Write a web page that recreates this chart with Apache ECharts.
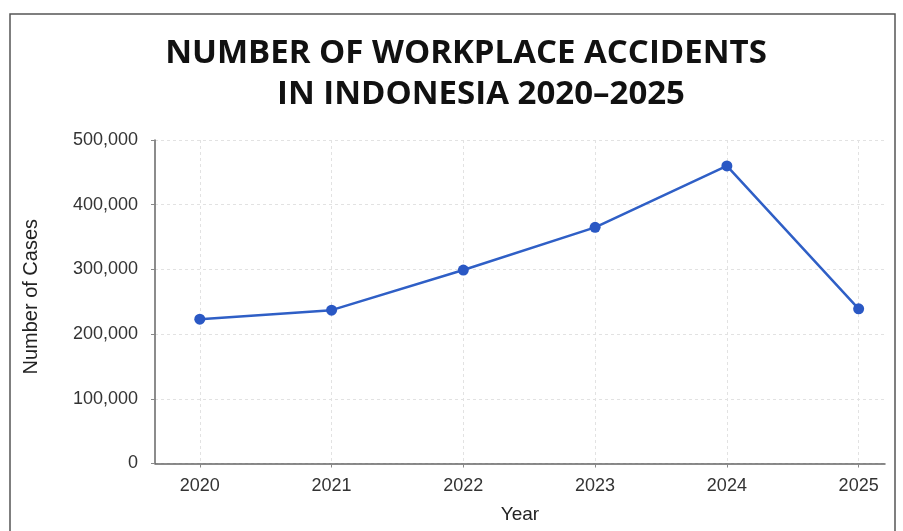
<!DOCTYPE html>
<html>
<head>
<meta charset="utf-8">
<script src="https://cdn.jsdelivr.net/npm/echarts@6/dist/echarts.min.js"></script>
<style>html,body{margin:0;padding:0;background:#fff;}#c{width:903px;height:531px;}</style>
</head>
<body>
<div id="c"></div>
<script>
const years = [2020, 2021, 2022, 2023, 2024, 2025];
const cases = [223000, 237000, 299000, 365000, 460000, 239000];
const yTicks = [0, 100000, 200000, 300000, 400000, 500000];
const titleLine1 = 'NUMBER OF WORKPLACE ACCIDENTS';
const titleLine2 = 'IN INDONESIA 2020\u20132025';

const chart = echarts.init(document.getElementById('c'), null, {renderer: 'canvas'});
chart.setOption({
  animation: false,
  backgroundColor: '#ffffff',
  graphic: [
    {type: 'rect', shape: {x: 10, y: 14, width: 885, height: 540}, style: {fill: 'none', stroke: '#555', lineWidth: 1.5}, silent: true},
    {type: 'text', x: 466, y: 54, style: {text: titleLine1, fill: '#111', font: 'bold 33px "Open Sans"', align: 'center', verticalAlign: 'middle'}},
    {type: 'text', x: 481, y: 94.5, style: {text: titleLine2, fill: '#111', font: 'bold 33px "Open Sans"', align: 'center', verticalAlign: 'middle'}}
  ],
  grid: {left: 155, right: 18, top: 140, bottom: 67.5, containLabel: false},
  xAxis: {
    type: 'value', min: 2019.66, max: 2025.2,
    name: 'Year', nameLocation: 'middle', nameGap: 42,
    nameTextStyle: {fontFamily: 'Liberation Sans', fontSize: 19, color: '#222'},
    axisLine: {show: true, lineStyle: {color: '#666', width: 1.5}},
    axisTick: {show: true, length: 4, customValues: years, lineStyle: {color: '#888'}},
    axisLabel: {customValues: years, margin: 14, fontFamily: 'Liberation Sans', fontSize: 18, color: '#333', formatter: v => String(v)},
    splitLine: {show: true, lineStyle: {color: '#e2e2e2', type: [3, 3], width: 1}}
  },
  yAxis: {
    type: 'value', min: 0, max: 500000, interval: 100000,
    name: 'Number of Cases', nameLocation: 'middle', nameGap: 114,
    nameTextStyle: {fontFamily: 'Liberation Sans', fontSize: 20, color: '#222', padding: [0, 0, 0, 10]},
    axisLine: {show: true, lineStyle: {color: '#666', width: 1.5}},
    axisTick: {show: true, length: 4, lineStyle: {color: '#888'}},
    axisLabel: {margin: 17, fontFamily: 'Liberation Sans', fontSize: 18, color: '#333', formatter: v => v.toLocaleString('en-US')},
    splitLine: {show: true, lineStyle: {color: '#e2e2e2', type: [3, 3], width: 1}}
  },
  series: [{
    type: 'line',
    data: years.map((y, i) => [y, cases[i]]),
    symbol: 'circle', symbolSize: 11,
    lineStyle: {color: '#2f5fc6', width: 2.5},
    itemStyle: {color: '#2a58c4'}
  }]
});
</script>
</body>
</html>
